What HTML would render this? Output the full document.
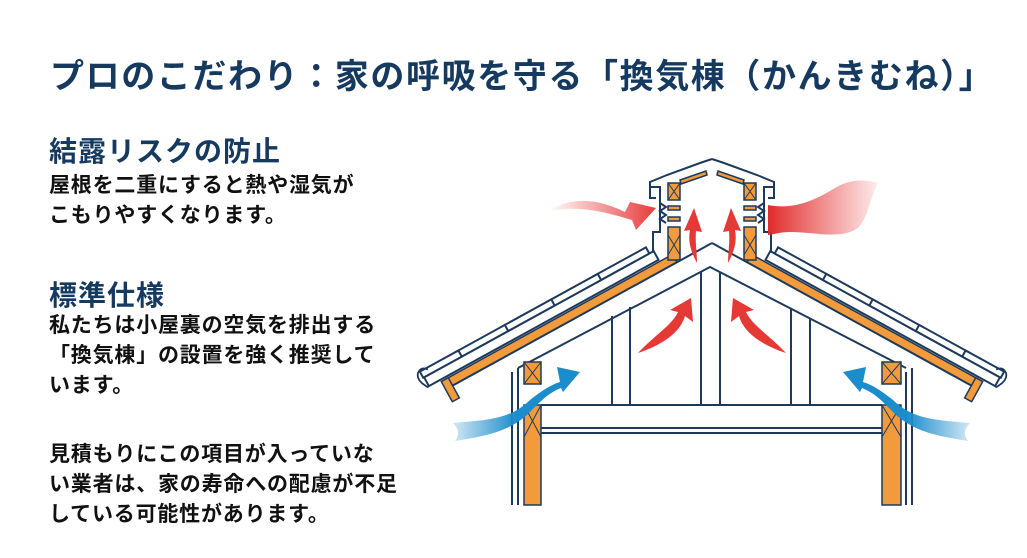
<!DOCTYPE html>
<html><head><meta charset="utf-8"><style>
body{margin:0;width:1027px;height:558px;background:#fff;overflow:hidden;position:relative;font-family:"Liberation Sans","Noto Sans CJK JP",sans-serif}
.t{position:absolute;white-space:nowrap;font-weight:bold}
.title{left:50px;top:49px;font-size:34px;color:#163a5f;letter-spacing:1.6px}
.h{font-size:28px;color:#163a5f;left:49px;letter-spacing:1px}
.b{font-size:21px;color:#111;left:49px;line-height:30px;letter-spacing:0.8px}
</style></head><body>
<div class="t title">プロのこだわり：家の呼吸を守る「換気棟（かんきむね）」</div>
<div class="t h" style="top:130px">結露リスクの防止</div>
<div class="t b" style="top:171px">屋根を二重にすると熱や湿気が<br>こもりやすくなります。</div>
<div class="t h" style="top:274px">標準仕様</div>
<div class="t b" style="top:311px">私たちは小屋裏の空気を排出する<br>「換気棟」の設置を強く推奨して<br>います。</div>
<div class="t b" style="top:440px">見積もりにこの項目が入っていな<br>い業者は、家の寿命への配慮が不足<br>している可能性があります。</div>
<svg width="1027" height="558" style="position:absolute;left:0;top:0">
<defs>
<linearGradient id="rl" x1="0" x2="1"><stop offset="0" stop-color="#e83a3a" stop-opacity="0"/><stop offset="1" stop-color="#e83a3a"/></linearGradient>
<linearGradient id="rr" x1="0" x2="1"><stop offset="0" stop-color="#e02a2a"/><stop offset="1" stop-color="#e83a3a" stop-opacity="0.1"/></linearGradient>
<linearGradient id="bl" x1="0" x2="1"><stop offset="0" stop-color="#1b8ccc" stop-opacity="0.2"/><stop offset="0.5" stop-color="#1b8ccc"/></linearGradient>
<linearGradient id="br" x1="1" x2="0"><stop offset="0" stop-color="#1b8ccc" stop-opacity="0.2"/><stop offset="0.5" stop-color="#1b8ccc"/></linearGradient>
<g id="roof">
  <rect x="40" y="0" width="258" height="9" fill="#f39a3a" stroke="#1d3a5c" stroke-width="1.5"/>
  <line x1="0" y1="0" x2="300" y2="0" stroke="#1d3a5c" stroke-width="2"/>
  <rect x="296" y="-14" width="8" height="23" fill="#f39a3a" stroke="#1d3a5c" stroke-width="1.5"/>
  <rect x="55" y="11" width="262" height="10" fill="#fff" stroke="#1d3a5c" stroke-width="2"/>
  <g fill="#fff" stroke="#1d3a5c" stroke-width="2">
    <rect x="60" y="21" width="60" height="7"/><rect x="115" y="21" width="58" height="7"/>
    <rect x="168" y="21" width="58" height="7"/><rect x="221" y="21" width="58" height="7"/>
    <rect x="274" y="21" width="44" height="7"/>
  </g>
  <path d="M318,10 q8,12 2,18 q-6,4 -10,-2" fill="none" stroke="#1d3a5c" stroke-width="1.8"/>
</g>
</defs>
<g stroke="#1d3a5c" stroke-width="2" fill="none">
<line x1="512" y1="372" x2="512" y2="505"/><line x1="518" y1="368" x2="518" y2="505"/>
<line x1="906" y1="372" x2="906" y2="505"/><line x1="912" y1="368" x2="912" y2="505"/>
<polyline points="518,368 710,267 906,368"/>
<line x1="541" y1="405" x2="882" y2="405"/>
<line x1="541" y1="428" x2="882" y2="428"/><line x1="541" y1="433" x2="882" y2="433"/>
<line x1="612" y1="316" x2="612" y2="405"/><line x1="630" y1="307" x2="630" y2="405"/>
<line x1="701" y1="272" x2="701" y2="405"/><line x1="720" y1="272" x2="720" y2="405"/>
<line x1="791" y1="309" x2="791" y2="405"/><line x1="810" y1="318" x2="810" y2="405"/>
</g>
<g transform="translate(712,243) rotate(151.2)"><use href="#roof"/></g>
<g transform="translate(712,243) scale(-1,1) rotate(151.2)"><use href="#roof"/></g>
<g fill="#f39a3a" stroke="#1d3a5c" stroke-width="1.5">
<rect x="524" y="362" width="17" height="22"/><rect x="524" y="405" width="17" height="100"/>
<rect x="882" y="362" width="19" height="22"/><rect x="882" y="405" width="19" height="100"/>
</g>
<g stroke="#1d3a5c" stroke-width="1">
<path d="M524,362 l17,22 M541,362 l-17,22 M882,362 l19,22 M901,362 l-19,22 M524,405 l17,32 M541,405 l-17,32 M882,405 l19,32 M901,405 l-19,32"/>
</g>
<g stroke="#1d3a5c" stroke-width="2" fill="none">
<polyline points="653,252 653,232 660,232 660,187 650,187 650,198 656,198"/>
<polyline points="650,187 650,182 667,175 700,163 712,159"/>
<polyline points="771,252 771,232 764,232 764,187 774,187 774,198 768,198"/>
<polyline points="774,187 774,182 757,175 724,163 712,159"/>
<polyline points="660,203 666,207 660,211 666,215 660,219 666,223"/>
<polyline points="764,203 758,207 764,211 758,215 764,219 758,223"/>
</g>
<g fill="#f39a3a" stroke="#1d3a5c" stroke-width="1.5">
<rect x="668" y="183" width="12" height="17"/><rect x="668" y="227" width="12" height="33"/>
<rect x="744" y="183" width="12" height="17"/><rect x="744" y="227" width="12" height="33"/>
<rect x="668" y="206" width="12" height="4"/><rect x="668" y="217" width="12" height="4"/>
<rect x="744" y="206" width="12" height="4"/><rect x="744" y="217" width="12" height="4"/>
<polygon points="680,180 706,171 707,175 681,184"/><polygon points="744,180 718,171 717,175 743,184"/>
</g>
<g stroke="#1d3a5c" stroke-width="1"><path d="M668,183 l12,17 M680,183 l-12,17 M744,183 l12,17 M756,183 l-12,17 M668,235 l12,20 M680,235 l-12,20 M744,235 l12,20 M756,235 l-12,20"/></g>
<path d="M548,211 C575,195 600,200 625,212 L630,202 L656,208 L636,230 L632,220 C605,212 580,205 548,211Z" fill="url(#rl)"/>
<path d="M768,205 C795,210 815,200 835,188 C852,178 866,180 878,183 C870,198 868,218 858,228 C840,240 815,232 790,232 C782,232 775,234 768,235Z" fill="url(#rr)"/>
<path d="M453,423 C485,420 510,420 530,400 C540,392 550,385 560,382 L557,367 L580,372 L563,392 L561,388 C548,393 540,402 530,412 C510,432 485,436 455,441 Q462,432 453,423Z" fill="url(#bl)"/>
<path d="M970,423 C938,420 913,420 893,400 C883,392 873,385 863,382 L866,367 L843,372 L860,392 L862,388 C875,393 883,402 893,412 C913,432 938,436 968,441 Q961,432 970,423Z" fill="url(#br)"/>
<g fill="#e53935">
<path d="M638,353 C655,335 672,325 678,312 L670,310 L691,298 L693,322 L685,316 C680,333 662,345 638,353Z"/>
<path d="M786,353 C769,335 752,325 746,312 L754,310 L733,298 L731,322 L739,316 C744,333 762,345 786,353Z"/>
<path d="M697,263 C690,250 688,240 690,230 L684,231 L694,208 L702,232 L696,231 C695,243 697,252 697,263Z"/>
<path d="M728,263 C735,250 737,240 735,230 L741,231 L731,208 L723,232 L729,231 C730,243 728,252 728,263Z"/>
</g>
</svg>
</body></html>
